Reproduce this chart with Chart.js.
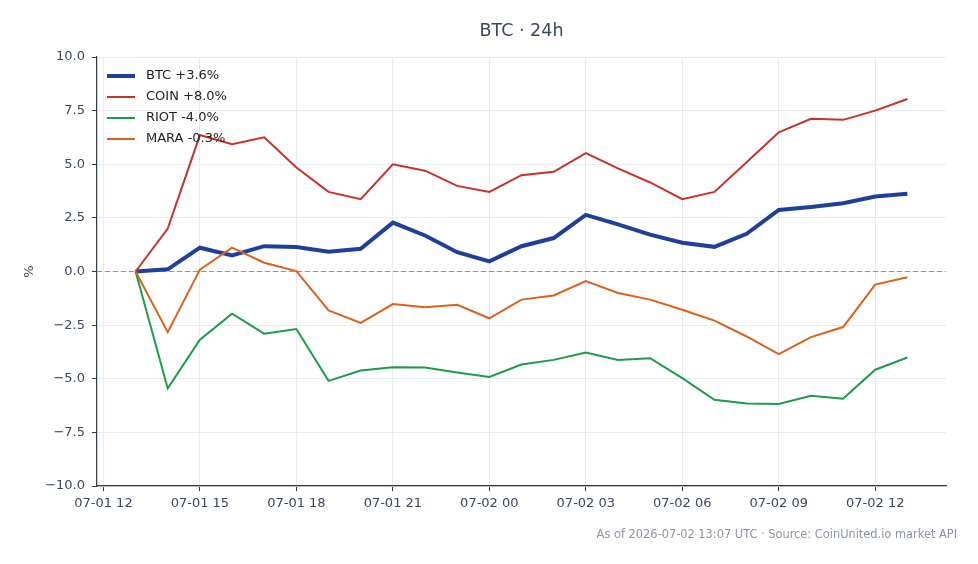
<!DOCTYPE html>
<html lang="en">
<head>
  <meta charset="utf-8">
  <title>BTC · 24h</title>
  <style>
    html, body { margin: 0; padding: 0; background: #ffffff; }
    #wrap { width: 978px; height: 564px; }
  </style>
  <script src="https://cdn.jsdelivr.net/npm/chart.js@4.4.1/dist/chart.umd.min.js"></script>
</head>
<body>
  <div id="wrap"><canvas id="chart" width="978" height="564"></canvas></div>
  <script>
    // hours since 07-01 00:00 UTC
    var hours = [13, 14, 15, 16, 17, 18, 19, 20, 21, 22, 23, 24, 25, 26, 27, 28, 29, 30, 31, 32, 33, 34, 35, 36, 37];
    var tickHours = [12, 15, 18, 21, 24, 27, 30, 33, 36];
    var tickLabels = ['07-01 12', '07-01 15', '07-01 18', '07-01 21', '07-02 00', '07-02 03', '07-02 06', '07-02 09', '07-02 12'];

    var btc  = [0.00, 0.10, 1.11, 0.75, 1.18, 1.14, 0.92, 1.06, 2.28, 1.68, 0.90, 0.47, 1.18, 1.56, 2.64, 2.20, 1.72, 1.34, 1.15, 1.76, 2.87, 3.01, 3.18, 3.50, 3.62];
    var coin = [0.00, 2.00, 6.36, 5.93, 6.26, 4.85, 3.71, 3.37, 5.00, 4.70, 3.99, 3.71, 4.49, 4.65, 5.52, 4.81, 4.15, 3.37, 3.71, 5.09, 6.49, 7.12, 7.07, 7.50, 8.04];
    var riot = [0.00, -5.45, -3.18, -1.97, -2.90, -2.68, -5.10, -4.62, -4.46, -4.48, -4.71, -4.92, -4.34, -4.12, -3.78, -4.12, -4.04, -4.97, -5.98, -6.15, -6.18, -5.79, -5.93, -4.58, -4.01];
    var mara = [0.00, -2.83, 0.09, 1.11, 0.41, 0.02, -1.81, -2.40, -1.52, -1.67, -1.55, -2.18, -1.31, -1.12, -0.45, -1.00, -1.31, -1.78, -2.29, -3.03, -3.85, -3.06, -2.59, -0.61, -0.27];

    var names = ['BTC', 'COIN', 'RIOT', 'MARA'];
    var series = [btc, coin, riot, mara];
    var colors = ['#1f3f9e', '#c8302e', '#1e9b48', '#d9621c'];
    var widths = [4, 2, 2, 2];

    var textColor = '#3b4859';
    var spineColor = '#2f3b4b';
    var gridColor = '#e8ecf1';

    Chart.defaults.font.family = "'DejaVu Sans', sans-serif";

    function pts(vals) {
      return vals.map(function (v, i) { return { x: hours[i], y: v }; });
    }
    function legendLabel(name, vals) {
      var last = vals[vals.length - 1];
      return name + ' ' + (last >= 0 ? '+' : '') + last.toFixed(1) + '%';
    }

    var datasets = series.map(function (vals, i) {
      return {
        label: legendLabel(names[i], vals),
        data: pts(vals),
        borderColor: colors[i],
        backgroundColor: colors[i],
        borderWidth: widths[i],
        pointRadius: 0,
        tension: 0,
        order: series.length - 1 - i
      };
    });

    var zeroLine = {
      id: 'zeroLine',
      beforeDatasetsDraw: function (chart) {
        var ctx = chart.ctx, a = chart.chartArea;
        var y = chart.scales.y.getPixelForValue(0);
        ctx.save();
        ctx.strokeStyle = '#8798ad';
        ctx.lineWidth = 1;
        ctx.setLineDash([5, 3]);
        ctx.beginPath();
        ctx.moveTo(a.left, y);
        ctx.lineTo(a.right, y);
        ctx.stroke();
        ctx.restore();
      }
    };

    var extras = {
      id: 'extras',
      afterDraw: function (chart) {
        var ctx = chart.ctx, a = chart.chartArea;
        ctx.save();
        // title, centred over the plot area
        ctx.font = "17.5px 'DejaVu Sans', sans-serif";
        ctx.fillStyle = textColor;
        ctx.textAlign = 'center';
        ctx.textBaseline = 'middle';
        ctx.fillText('BTC \u00b7 24h', (a.left + a.right) / 2, 31.5);
        // legend, top-left inside the plot
        ctx.font = "13px 'DejaVu Sans', sans-serif";
        ctx.textAlign = 'left';
        chart.data.datasets.forEach(function (ds, i) {
          var y = 76 + i * 21;
          ctx.strokeStyle = ds.borderColor;
          ctx.lineWidth = ds.borderWidth;
          ctx.beginPath();
          ctx.moveTo(107, y);
          ctx.lineTo(135, y);
          ctx.stroke();
          ctx.fillStyle = '#222222';
          ctx.fillText(ds.label, 146, y);
        });
        // footer
        ctx.font = "11.4px 'DejaVu Sans', sans-serif";
        ctx.fillStyle = '#8b95a3';
        ctx.textAlign = 'right';
        ctx.fillText('As of 2026-07-02 13:07 UTC \u00b7 Source: CoinUnited.io market API', 957, 535);
        ctx.restore();
      }
    };

    new Chart(document.getElementById('chart').getContext('2d'), {
      type: 'line',
      data: { datasets: datasets },
      options: {
        responsive: false,
        animation: false,
        devicePixelRatio: 1,
        layout: { padding: { top: 57, right: 32, bottom: 0, left: 0 } },
        plugins: {
          legend: { display: false },
          tooltip: { enabled: false },
          title: { display: false }
        },
        scales: {
          x: {
            type: 'linear',
            min: 11.8,
            max: 38.2,
            afterBuildTicks: function (s) {
              s.ticks = tickHours.map(function (h) { return { value: h }; });
            },
            afterFit: function (s) { s.height = 78; },
            ticks: {
              color: textColor,
              font: { size: 13 },
              padding: 5,
              maxRotation: 0,
              autoSkip: false,
              callback: function (v) {
                var k = tickHours.indexOf(v);
                return k >= 0 ? tickLabels[k] : '';
              }
            },
            grid: { color: gridColor, tickColor: spineColor, tickLength: 5 },
            border: { color: spineColor, width: 1.2 }
          },
          y: {
            min: -10,
            max: 10,
            afterFit: function (s) { s.width = 97; },
            ticks: {
              stepSize: 2.5,
              color: textColor,
              font: { size: 13 },
              padding: 7,
              callback: function (v) { return v.toFixed(1).replace('-', '\u2212'); }
            },
            grid: { color: gridColor, tickColor: spineColor, tickLength: 5 },
            border: { color: spineColor, width: 1.2 },
            title: {
              display: true,
              text: '%',
              color: textColor,
              font: { size: 13 },
              padding: { top: 22, bottom: 0 }
            }
          }
        }
      },
      plugins: [zeroLine, extras]
    });
  </script>
</body>
</html>
